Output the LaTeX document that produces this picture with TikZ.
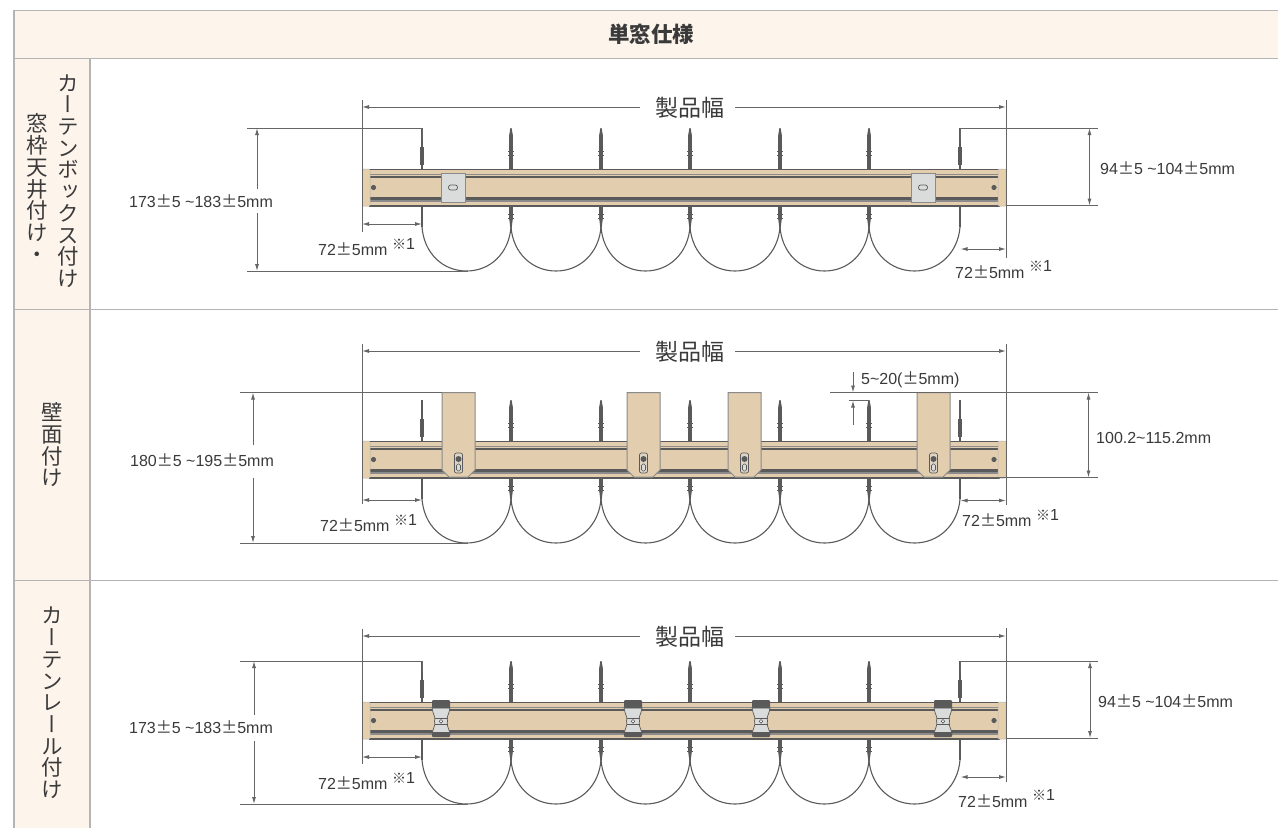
\documentclass[tikz,border=0pt]{standalone}
\usepackage{fontspec}
\usetikzlibrary{arrows.meta}
\setmainfont{Liberation Sans}
\newfontfamily\cjk{Noto Sans CJK JP}
\newfontfamily\cjkv[RawFeature={+vert}]{Noto Sans CJK JP}
\definecolor{headfill}{HTML}{FDF4EC}
\definecolor{gridc}{HTML}{B4B4B4}
\definecolor{tanc}{HTML}{E2CDAE}
\definecolor{capc}{HTML}{E6CFAB}
\definecolor{ink}{HTML}{3A3A3A}
\definecolor{dk}{HTML}{5A5A5A}
\definecolor{dimc}{HTML}{666666}
\definecolor{metal}{HTML}{DADCDC}
\definecolor{edgec}{HTML}{8A8A8A}
\newcommand{\pmj}{{\cjk ±}}
\newcommand{\kome}{{\cjk\fontsize{14}{16}\selectfont ※}}
\tikzset{
  dimline/.style={draw=dimc,line width=.9},
  dimarrow/.style={dimline,{Latex[length=7,width=4]}-{Latex[length=7,width=4]}},
  onearrow/.style={dimline,-{Latex[length=7,width=4]}},
  lab/.style={anchor=west,inner sep=0,text=ink,font=\fontsize{16}{18}\selectfont},
  wid/.style={anchor=center,inner sep=0,text=ink,font=\cjk\fontsize{23}{25}\selectfont},
  sidelab/.style={anchor=center,inner sep=0,text=ink,align=center,font=\cjkv\fontsize{21.5}{21.7}\selectfont},
  gridln/.style={draw=gridc,line width=1},
}
% common rail, stems and curtain waves; #1 = top of the rail
\newcommand{\railrow}[1]{%
  % thin outer stems
  \foreach \sx in {422,960}{
    \fill[dk] (\sx-.7,#1-41) rectangle (\sx+.7,#1);
    \fill[dk] (\sx-1.7,#1-22) rectangle (\sx+1.7,#1-4);
    \fill[dk] (\sx-1.3,#1+37) rectangle (\sx+1.3,#1+58);
  }
  % inner stems
  \foreach \sx in {511,601,690,780,869}{
    \fill[dk] (\sx-.6,#1-41) -- (\sx+.6,#1-41) -- (\sx+1.8,#1-34) -- (\sx+1.8,#1) -- (\sx-1.8,#1) -- (\sx-1.8,#1-34) -- cycle;
    \fill[dk] (\sx-1.8,#1+37) -- (\sx+1.8,#1+37) -- (\sx+1.8,#1+50) -- (\sx+.6,#1+59) -- (\sx-.6,#1+59) -- (\sx-1.8,#1+50) -- cycle;
    \fill[dk] (\sx-3,#1-18) rectangle (\sx+3,#1-16.8);
    \fill[dk] (\sx-3,#1-14.5) rectangle (\sx+3,#1-13.3);
    \fill[dk] (\sx-3,#1+45) rectangle (\sx+3,#1+46.2);
    \fill[dk] (\sx-3,#1+48.5) rectangle (\sx+3,#1+49.7);
  }
  % curtain waves
  \foreach \a/\b in {422/511,511/601,601/690,690/780,780/869,869/960}{
    \draw[dk,line width=1.1] (\a,#1+58) .. controls (\a+2,#1+84) and ({(\a+\b)/2-24},#1+102) .. ({(\a+\b)/2},#1+102)
       .. controls ({(\a+\b)/2+24},#1+102) and (\b-2,#1+84) .. (\b,#1+58);
  }
  % rail body
  \fill[tanc] (363,#1) rectangle (1006,#1+37);
  \fill[dk] (369,#1-.5) rectangle (1000,#1+1.2);
  \fill[dk!70] (370,#1+4.5) rectangle (998,#1+6.2);
  \fill[dk] (370,#1+6.5) rectangle (998,#1+9);
  \fill[dk] (370,#1+28) rectangle (998,#1+30.5);
  \fill[dk!70] (370,#1+31) rectangle (998,#1+32.5);
  \fill[dk] (369,#1+36) rectangle (1000,#1+37.6);
  % end caps
  \fill[capc,draw=gridc,line width=.5,rounded corners=1] (362.5,#1) rectangle (370,#1+37);
  \fill[capc,draw=gridc,line width=.5,rounded corners=1] (998,#1) rectangle (1006,#1+37);
  \fill[dk] (373.5,#1+18.5) circle (2.6);
  \fill[dk] (994,#1+18.5) circle (2.6);
}
\newcommand{\clipbox}[2]{% x centre, rail top
  \fill[metal,draw=edgec,line width=1] (#1-12,#2+4) rectangle (#1+12,#2+33);
  \draw[dk,line width=.7,fill=metal,rounded corners=2.2] (#1-4.5,#2+16) rectangle (#1+4.5,#2+21);
}
\newcommand{\wallbracket}[2]{% x left, rail top
  \fill[tanc,draw=edgec,line width=1] (#1,#2-48.5) -- (#1+33,#2-48.5) -- (#1+33,#2+29) -- (#1+26,#2+36) -- (#1+7,#2+36) -- (#1,#2+29) -- cycle;
  \draw[dk,line width=.7,fill=metal!50!tanc,rounded corners=2] (#1+12.5,#2+12) rectangle (#1+20.5,#2+32);
  \fill[dk] (#1+16.5,#2+18) circle (3);
  \draw[dk,line width=.6,fill=metal,rounded corners=1.5] (#1+14.5,#2+23) rectangle (#1+18.5,#2+30);
}
\newcommand{\railclamp}[2]{% x centre, rail top
  \fill[metal,draw=dk,line width=.7] (#1-9,#2+6) -- (#1+9,#2+6) .. controls (#1+8,#2+13) and (#1+5,#2+15) .. (#1+6.5,#2+19) .. controls (#1+5,#2+23) and (#1+8,#2+26) .. (#1+9,#2+32) -- (#1-9,#2+32) .. controls (#1-8,#2+26) and (#1-5,#2+23) .. (#1-6.5,#2+19) .. controls (#1-5,#2+15) and (#1-8,#2+13) .. (#1-9,#2+6) -- cycle;
  \fill[dk,rounded corners=1] (#1-9,#2-2) rectangle (#1+9,#2+6);
  \fill[dk,rounded corners=1] (#1-9,#2+30) rectangle (#1+9,#2+35);
  \fill[dk] (#1-6.5,#2+16) rectangle (#1+6.5,#2+16.7);
  \fill[dk] (#1-6.5,#2+22) rectangle (#1+6.5,#2+22.7);
  \draw[dk,line width=.6,fill=white] (#1,#2+19.3) circle (1.8);
}
\begin{document}
\begin{tikzpicture}[x=1pt,y=-1pt]
\useasboundingbox (0,0) rectangle (1278,828);
\fill[white] (0,0) rectangle (1278,828);
% table
\fill[headfill] (14,10) rectangle (1278,58);
\fill[headfill] (14,58) rectangle (90,828);
\draw[gridc,line width=1.6] (1278,10.5) -- (14,10.5) -- (14,828);
\draw[gridln] (14,58.5) -- (1278,58.5);
\draw[gridln] (14,309.5) -- (1278,309.5);
\draw[gridln] (14,580) -- (1278,580);
\draw[gridc,line width=1.1] (90,58) -- (90,828);
\node[anchor=center,inner sep=0,text=ink,font=\cjk\bfseries\fontsize{21.5}{23}\selectfont] (title) at (651,34) {単窓仕様};
\node[sidelab] (s1a) at (68.5,181) {カ\\ー\\テ\\ン\\ボ\\ッ\\ク\\ス\\付\\け};
\node[sidelab] (s1b) at (37.5,188) {窓\\枠\\天\\井\\付\\け\\・};
\node[sidelab] (s2) at (52,445) {壁\\面\\付\\け};
\node[sidelab] (s3) at (52,703) {カ\\ー\\テ\\ン\\レ\\ー\\ル\\付\\け};

% ---------- row 1
\railrow{169}
\clipbox{453}{169}
\clipbox{923}{169}
\coordinate (a1l) at (362,100); \coordinate (a1L) at (362,232);
\coordinate (a1r) at (1006,100); \coordinate (a1R) at (1006,258);
\draw[dimline] (a1l) -- (a1L);
\draw[dimline] (a1r) -- (a1R);
\node[wid] (w1) at (690,108) {製品幅};
\coordinate (w1a) at (362,107); \coordinate (w1b) at (1006,107);
\draw[onearrow] (640,107) -- (w1a);
\draw[onearrow] (735,107) -- (w1b);
\draw[dimline] (247,128) -- (422,128) -- (422,140);
\draw[dimline] (960,140) -- (960,128) -- (1098,128);
\draw[dimline] (247,271) -- (468,271);
\draw[dimline] (1006,205.5) -- (1098,205.5);
\draw[onearrow] (257,189) -- (257,128);
\draw[onearrow] (257,213) -- (257,271);
\draw[dimarrow] (1089.5,128) -- (1089.5,205.5);
\draw[dimarrow] (362,224) -- (422,224);
\draw[dimarrow] (960.5,249) -- (1006,249);
\node[lab] (t1a) at (129,201) {173\pmj5 \textasciitilde183\pmj5mm};
\node[lab] (t1b) at (1100,168) {94\pmj5 \textasciitilde104\pmj5mm};
\node[lab] (t1c) at (318,249) {72\pmj5mm};
\node[lab] (t1d) at (392,244) {\kome 1};
\node[lab] (t1e) at (955,272) {72\pmj5mm};
\node[lab] (t1f) at (1029,266) {\kome 1};

% ---------- row 2
\railrow{441}
\wallbracket{442}{441}
\wallbracket{627}{441}
\wallbracket{728}{441}
\wallbracket{917}{441}
\draw[dimline] (362,344) -- (362,504);
\draw[dimline] (1006,344) -- (1006,505);
\node[wid] (w2) at (690,352) {製品幅};
\draw[onearrow] (640,351) -- (362,351);
\draw[onearrow] (735,351) -- (1006,351);
\draw[dimline] (240,392.5) -- (442,392.5);
\draw[dimline] (830,392.5) -- (1098,392.5);
\draw[dimline] (240,543) -- (468,543);
\draw[dimline] (978,477.5) -- (1098,477.5);
\draw[dimline] (849,400.5) -- (869,400.5);
\draw[onearrow] (253,445) -- (253,392.5);
\draw[onearrow] (253,478) -- (253,543);
\draw[dimarrow] (1088.5,392.5) -- (1088.5,477.5);
\draw[dimarrow] (362,500) -- (422,500);
\draw[dimarrow] (960.5,500.5) -- (1006,500.5);
\draw[onearrow] (853,372) -- (853,392.5);
\draw[onearrow] (853,425) -- (853,400.5);
\node[lab] (t2a) at (130,460) {180\pmj5 \textasciitilde195\pmj5mm};
\node[lab] (t2b) at (1096,438) {100.2\textasciitilde115.2mm};
\node[lab] (t2c) at (320,525) {72\pmj5mm};
\node[lab] (t2d) at (394,520) {\kome 1};
\node[lab] (t2e) at (962,520) {72\pmj5mm};
\node[lab] (t2f) at (1036,515) {\kome 1};
\node[lab] (t2g) at (861,380) {5\textasciitilde20(\pmj5mm)};

% ---------- row 3
\railrow{702}
\railclamp{441}{702}
\railclamp{633}{702}
\railclamp{761}{702}
\railclamp{943}{702}
\draw[dimline] (362,629) -- (362,764);
\draw[dimline] (1006,628) -- (1006,782);
\node[wid] (w3) at (690,637) {製品幅};
\draw[onearrow] (640,636) -- (362,636);
\draw[onearrow] (735,636) -- (1006,636);
\draw[dimline] (240,661) -- (422,661) -- (422,673);
\draw[dimline] (960,673) -- (960,661) -- (1098,661);
\draw[dimline] (240,804) -- (468,804);
\draw[dimline] (1006,738) -- (1098,738);
\draw[onearrow] (254,715) -- (254,661);
\draw[onearrow] (254,741) -- (254,804);
\draw[dimarrow] (1090,661) -- (1090,738);
\draw[dimarrow] (362,757) -- (422,757);
\draw[dimarrow] (960.5,777) -- (1006,777);
\node[lab] (t3a) at (129,727) {173\pmj5 \textasciitilde183\pmj5mm};
\node[lab] (t3b) at (1098,701) {94\pmj5 \textasciitilde104\pmj5mm};
\node[lab] (t3c) at (318,783) {72\pmj5mm};
\node[lab] (t3d) at (392,778) {\kome 1};
\node[lab] (t3e) at (958,801) {72\pmj5mm};
\node[lab] (t3f) at (1032,795) {\kome 1};
\end{tikzpicture}
\end{document}
